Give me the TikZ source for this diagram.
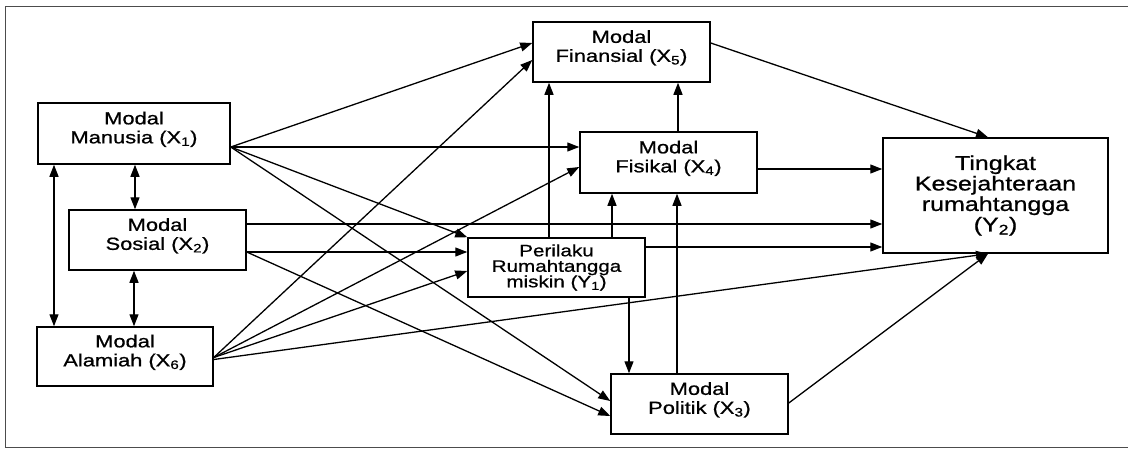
\documentclass[tikz,border=0pt]{standalone}
\usepackage{fontspec}
\newfontfamily\af[FakeStretch=1.25,FakeBold=0.8]{Liberation Sans}
\usetikzlibrary{arrows.meta}
\begin{document}
\begin{tikzpicture}[x=1pt,y=-1pt,
  box/.style={draw, line width=1.5pt, inner sep=0pt, align=center,
    font=\af\fontsize{17.5}{19}\selectfont, text depth=12pt},
  arr/.style={line width=1.3pt, -{Triangle[length=12pt,width=9pt]}},
  darr/.style={line width=1.3pt, {Triangle[length=12pt,width=9pt]}-{Triangle[length=12pt,width=9pt]}},
  frame/.style={draw=black!70, line width=1pt}
]
\useasboundingbox (0,0) rectangle (1128,456);
\draw[frame] (1128,6) -- (5,6) -- (5,447) -- (1128,447);

\node[box, minimum width=192pt, minimum height=61pt] (X1) at (134,133.5) {Modal\\Manusia (X\textsubscript{1})};
\node[box, minimum width=177pt, minimum height=60pt] (X2) at (157.5,240) {Modal\\Sosial (X\textsubscript{2})};
\node[box, minimum width=176pt, minimum height=59pt] (X6) at (125,356.5) {Modal\\Alamiah (X\textsubscript{6})};
\node[box, minimum width=177pt, minimum height=60pt] (X5) at (621.5,52) {Modal\\Finansial (X\textsubscript{5})};
\node[box, minimum width=177pt, minimum height=61pt] (X4) at (668.5,162.5) {Modal\\Fisikal (X\textsubscript{4})};
\node[box, minimum width=177pt, minimum height=59pt, text depth=, font=\af\fontsize{16.5}{15.5}\selectfont] (Y1) at (556.5,267.5) {Perilaku\\Rumahtangga\\miskin (Y\textsubscript{1})};
\node[box, minimum width=177pt, minimum height=60pt] (X3) at (699.5,404) {Modal\\Politik (X\textsubscript{3})};
\node[box, minimum width=225pt, minimum height=115pt, text depth=, font=\af\fontsize{20}{20.5}\selectfont] (Y2) at (995.5,195.5) {Tingkat\\Kesejahteraan\\rumahtangga\\(Y\textsubscript{2})};

% from X1
\coordinate (x1o) at ([yshift=-13.5pt]X1.east);
\draw[arr] (x1o) -- ([yshift=9pt]X5.west);
\draw[arr] (x1o) -- (x1o -| X4.west);
\draw[arr] (x1o) -- (Y1.north west);
\draw[arr] (x1o) -- ([yshift=3pt]X3.west);
% double arrows
\draw[darr] ([xshift=1pt]X1.south) -- ([xshift=1pt]X1.south |- X2.north);
\draw[darr] ([xshift=-80pt]X1.south) -- ([xshift=-80pt]X1.south |- X6.north);
\draw[darr] ([xshift=-23.5pt]X2.south) -- ([xshift=-23.5pt]X2.south |- X6.north);
% from X2
\coordinate (x2a) at ([yshift=16pt]X2.east);
\coordinate (x2b) at ([yshift=-12pt]X2.east);
\draw[arr] (x2a) -- (x2a -| Y2.west);
\draw[arr] (x2b) -- (x2b -| Y1.west);
\draw[arr] (x2b) -- ([yshift=-12pt]X3.west);
% from X6
\coordinate (x6o) at ([yshift=-1pt]X6.east);
\draw[arr] (x6o) -- ([yshift=-8pt]X5.west);
\draw[arr] (x6o) -- ([yshift=-4.5pt]X4.west);
\draw[arr] (x6o) -- ([yshift=-3.5pt]Y1.west);
\draw[arr] ([yshift=-3pt]X6.east) -- ([xshift=-7.5pt]Y2.south);
% from Y1
\draw[arr] ([xshift=-7.5pt]Y1.north) -- ([xshift=-7.5pt]Y1.north |- X5.south);
\draw[arr] ([xshift=55.5pt]Y1.north) -- ([xshift=55.5pt]Y1.north |- X4.south);
\draw[arr] ([yshift=20.5pt]Y1.east) -- ([yshift=20.5pt]Y1.east -| Y2.west);
\draw[arr] ([xshift=72.5pt]Y1.south) -- ([xshift=72.5pt]Y1.south |- X3.north);
% from X4
\draw[arr] ([xshift=9.5pt]X4.north) -- ([xshift=9.5pt]X4.north |- X5.south);
\draw[arr] ([yshift=-6.5pt]X4.east) -- ([yshift=-6.5pt]X4.east -| Y2.west);
% from X3
\draw[arr] ([xshift=-22.5pt]X3.north) -- ([xshift=-22.5pt]X3.north |- X4.south);
\draw[arr] ([yshift=1pt]X3.east) -- ([xshift=-7.5pt]Y2.south);
% from X5
\draw[arr] ([yshift=9pt]X5.east) -- ([xshift=-7.5pt]Y2.north);
\end{tikzpicture}
\end{document}
